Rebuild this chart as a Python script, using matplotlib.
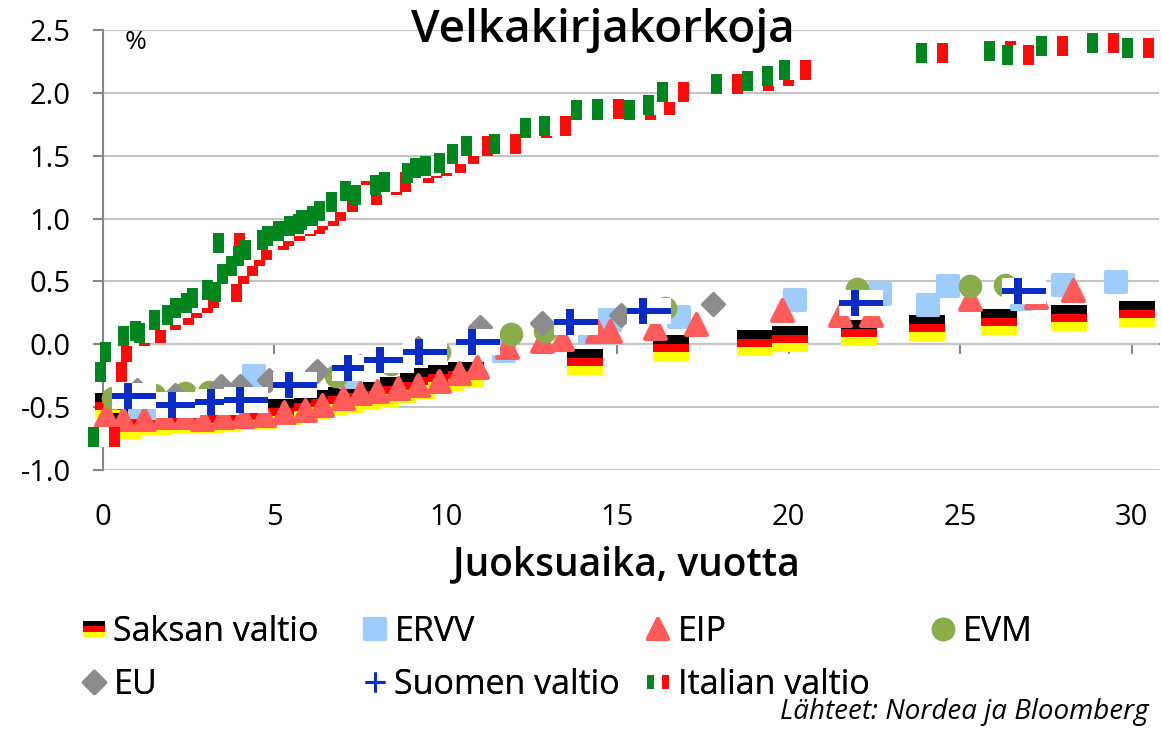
import matplotlib
matplotlib.use("Agg")
import matplotlib.pyplot as plt
from matplotlib.path import Path
from matplotlib.markers import MarkerStyle
from matplotlib.lines import Line2D
from matplotlib.legend_handler import HandlerTuple

# ---- data (maturity in years, yield in %) ----
de_x = [0.3, 0.6, 1.1, 1.5, 2.0, 2.5, 3.0, 3.5, 4.0, 4.6, 5.3, 6.1, 6.6, 7.1, 7.6, 8.1, 8.6, 9.2, 9.6,
        10.0, 10.6, 14.05, 16.57, 19.02, 20.04, 22.05, 24.03, 26.13, 28.17, 30.15]
de_y = [-0.49, -0.65, -0.62, -0.62, -0.61, -0.61, -0.60, -0.59, -0.58, -0.57, -0.54, -0.50, -0.47, -0.44,
        -0.42, -0.40, -0.36, -0.33, -0.29, -0.27, -0.24, -0.14, -0.03, 0.01, 0.04, 0.09, 0.13, 0.18, 0.21, 0.24]

ervv_x = [1.1, 1.6, 4.4, 7.2, 11.7, 14.2, 14.8, 16.8, 20.2, 22.67, 24.07, 24.65, 26.8, 28.0, 29.55]
ervv_y = [-0.50, -0.51, -0.25, -0.26, -0.05, 0.10, 0.19, 0.22, 0.35, 0.40, 0.31, 0.46, 0.36, 0.47, 0.495]

eip_x = [0.1, 0.6, 1.2, 1.8, 2.4, 2.9, 3.5, 4.1, 4.7, 5.3, 5.9, 6.4, 7.0, 7.5, 8.0, 8.6, 9.2, 9.8, 10.4,
         10.9, 11.8, 12.8, 13.4, 14.4, 14.8, 16.1, 17.3, 19.8, 21.5, 22.4, 25.3, 27.2, 28.3]
eip_y = [-0.56, -0.59, -0.59, -0.58, -0.58, -0.59, -0.58, -0.57, -0.56, -0.54, -0.52, -0.48, -0.43, -0.39,
         -0.37, -0.35, -0.32, -0.29, -0.23, -0.18, -0.02, 0.03, 0.04, 0.11, 0.11, 0.13, 0.16, 0.27, 0.23,
         0.23, 0.36, 0.38, 0.43]

evm_x = [0.3, 1.5, 2.4, 3.1, 6.8, 8.4, 9.8, 11.9, 12.9, 16.4, 22.0, 25.3, 26.3]
evm_y = [-0.43, -0.40, -0.39, -0.38, -0.25, -0.16, -0.06, 0.08, 0.11, 0.29, 0.44, 0.46, 0.47]

eu_x = [1.0, 2.1, 3.45, 4.0, 4.85, 6.25, 7.5, 9.2, 11.0, 12.8, 15.1, 17.8]
eu_y = [-0.36, -0.40, -0.33, -0.33, -0.28, -0.21, -0.17, -0.03, 0.14, 0.17, 0.23, 0.32]

fi_x = [0.90, 2.19, 3.33, 4.17, 5.60, 7.34, 8.27, 9.39, 10.94, 13.81, 15.92, 22.10, 26.85]
fi_y = [-0.41, -0.48, -0.46, -0.44, -0.32, -0.19, -0.125, -0.06, 0.02, 0.18, 0.265, 0.33, 0.425]

it_x = [0.04, 0.24, 0.4, 0.91, 1.26, 1.38, 1.83, 2.19, 2.43, 2.75, 2.92, 3.35, 3.6, 3.68, 3.79, 4.07,
        4.27, 4.47, 4.96, 5.1, 5.43, 5.75, 6.02, 6.1, 6.41, 6.63, 6.98, 7.39, 7.68, 8.25, 8.51, 9.18,
        9.43, 9.72, 10.13, 10.5, 10.92, 11.72, 12.63, 13.19, 14.12, 14.73, 15.67, 16.22, 16.63, 18.2,
        19.1, 19.7, 20.2, 24.17, 26.16, 26.68, 27.68, 29.17, 30.18]
it_y = [-0.74, -0.22, -0.06, 0.07, 0.105, 0.09, 0.19, 0.23, 0.29, 0.33, 0.37, 0.43, 0.42, 0.805, 0.56,
        0.62, 0.70, 0.75, 0.83, 0.865, 0.90, 0.94, 0.96, 0.99, 1.02, 1.06, 1.13, 1.22, 1.19, 1.27, 1.29,
        1.36, 1.40, 1.42, 1.44, 1.51, 1.58, 1.595, 1.72, 1.735, 1.86, 1.87, 1.86, 1.90, 2.01, 2.07, 2.09,
        2.13, 2.18, 2.32, 2.335, 2.30, 2.37, 2.40, 2.355]

labels = ["Saksan valtio", "ERVV", "EIP", "EVM", "EU", "Suomen valtio", "Italian valtio"]
x_ticks = [0, 5, 10, 15, 20, 25, 30]
y_ticks = [-1.0, -0.5, 0.0, 0.5, 1.0, 1.5, 2.0, 2.5]

# ---- flag marker shapes (all normalised to width 1) ----
def rect(x0, x1, y0, y1):
    return Path([(x0, y0), (x1, y0), (x1, y1), (x0, y1), (x0, y0)], closed=True)

h = 0.347
DE_FLAG = [(rect(-0.5, 0.5, h / 3, h), "#000000"),
           (rect(-0.5, 0.5, -h / 3, h / 3), "#ff0000"),
           (rect(-0.5, 0.5, -h, -h / 3), "#ffff00")]
h = 0.328
IT_FLAG = [(rect(-0.5, 0.5, -h, h), "#ffffff"),
           (rect(-0.5, -0.1667, -h, h), "#00851f"),
           (rect(0.1667, 0.5, -h, h), "#ff0a0a")]
fh, hb, v0, v1 = 0.3, 0.065, -0.23, -0.05
cross = Path([(-0.5, -hb), (v0, -hb), (v0, -fh), (v1, -fh), (v1, -hb), (0.5, -hb), (0.5, hb),
              (v1, hb), (v1, fh), (v0, fh), (v0, hb), (-0.5, hb), (-0.5, -hb)], closed=True)
FI_FLAG = [(rect(-0.5, 0.5, -fh, fh), "#ffffff"), (cross, "#0a2bc4")]

BLUE = "#9fcdfb"
SALMON = "#ff5b5b"
OLIVE = "#8aac4b"
GREY = "#8c8c8c"
FI_BLUE = "#0a2bc4"
AXIS = "#868686"
GRID = "#c4c4c4"


def draw_flags(ax, xs, ys, parts, size, z):
    # each flag drawn whole so later flags cover earlier ones
    for xi, yi in zip(xs, ys):
        for path, color in parts:
            ax.scatter([xi], [yi], marker=path, s=size, c=color, linewidths=0,
                       zorder=z, clip_on=False)


def draw_round(ax, xs, ys, marker, size, color, lw, z):
    coll = ax.scatter(xs, ys, marker=marker, s=size, c=color, edgecolors=color,
                      linewidths=lw, zorder=z, clip_on=False)
    coll.set_joinstyle("round")
    return coll


def main() -> None:
    plt.rcParams["font.family"] = ["Open Sans", "DejaVu Sans"]
    fig = plt.figure(figsize=(11.62, 7.30), dpi=100)
    ax = fig.add_axes([0.0884, 0.356, 0.909, 0.603])

    draw_flags(ax, de_x, de_y, DE_FLAG, 26 ** 2, 3)
    draw_round(ax, ervv_x, ervv_y, "s", 14 ** 2, BLUE, 3, 4)
    draw_round(ax, eip_x, eip_y, "^", 15 ** 2, SALMON, 3, 5)
    draw_round(ax, evm_x, evm_y, "o", 17 ** 2, OLIVE, 0, 6)
    draw_round(ax, eu_x, eu_y, "D", 11 ** 2, GREY, 2.5, 7)
    draw_flags(ax, fi_x, fi_y, FI_FLAG, 32 ** 2, 8)
    draw_flags(ax, it_x, it_y, IT_FLAG, 23 ** 2, 9)

    ax.set_xlim(0, 30.8)
    ax.set_ylim(-1.0, 2.5)
    ax.set_yticks(y_ticks)
    ax.set_yticklabels([f"{v:.1f}" for v in y_ticks])
    ax.set_xticks(x_ticks)
    ax.grid(axis="y", color=GRID, linewidth=1.5, zorder=0)
    ax.set_axisbelow(True)
    for side in ["top", "right", "bottom"]:
        ax.spines[side].set_visible(False)
    ax.spines["left"].set_color(AXIS)
    ax.spines["left"].set_linewidth(1.5)
    ax.tick_params(axis="y", direction="out", length=7, width=1.5, color=AXIS, labelsize=21, pad=16)
    ax.tick_params(axis="x", length=0, labelsize=21, pad=24)

    # horizontal axis line crossing at y = 0, with its tick marks
    sec = ax.secondary_xaxis(0, transform=ax.transData)
    sec.set_xticks(x_ticks)
    sec.tick_params(axis="x", direction="out", length=7, width=1.5, color=AXIS,
                    labelbottom=False, labeltop=False)
    sec.spines["bottom"].set_color(AXIS)
    sec.spines["bottom"].set_linewidth(1.5)

    ax.text(0.021, 0.972, "%", transform=ax.transAxes, fontsize=19, va="center", ha="left")
    fig.text(0.5185, 0.958, "Velkakirjakorkoja", fontsize=33, fontweight="semibold",
             ha="center", va="center")
    fig.text(0.539, 0.226, "Juoksuaika, vuotta", fontsize=28, fontweight="semibold",
             ha="center", va="center")
    fig.text(0.988, 0.024, "Lähteet: Nordea ja Bloomberg", fontsize=20, style="italic",
             ha="right", va="center")

    # legend handles
    def flag_handle(parts, ms):
        return tuple(Line2D([], [], marker=p, markersize=ms, color=c, markeredgewidth=0,
                            linestyle="none") for p, c in parts)

    def round_handle(m, ms, color, mew):
        return Line2D([], [], marker=MarkerStyle(m, joinstyle="round"), markersize=ms, color=color,
                      markeredgecolor=color, markeredgewidth=mew, linestyle="none")

    handles = [
        flag_handle(DE_FLAG, 16),
        round_handle("s", 14, BLUE, 3),
        round_handle("^", 15, SALMON, 3),
        round_handle("o", 17, OLIVE, 0),
        round_handle("D", 11, GREY, 2.5),
        Line2D([], [], marker="+", markersize=15, markeredgewidth=2.2, color=FI_BLUE, linestyle="none"),
        flag_handle(IT_FLAG, 16),
    ]
    columns = [([0, 4], 0.071), ([1, 5], 0.313), ([2, 6], 0.557), ([3], 0.802)]
    for idx, xpos in columns:
        leg = fig.legend([handles[i] for i in idx], [labels[i] for i in idx],
                         loc="upper left", bbox_to_anchor=(xpos, 0.158),
                         frameon=False, fontsize=24.5, handlelength=0.65, handletextpad=0.25,
                         labelspacing=0.56, borderpad=0, borderaxespad=0,
                         handler_map={tuple: HandlerTuple(ndivide=1, pad=0)})
        fig.add_artist(leg)

    fig.savefig("out.png", dpi=100)
    plt.close(fig)


if __name__ == "__main__":
    main()
